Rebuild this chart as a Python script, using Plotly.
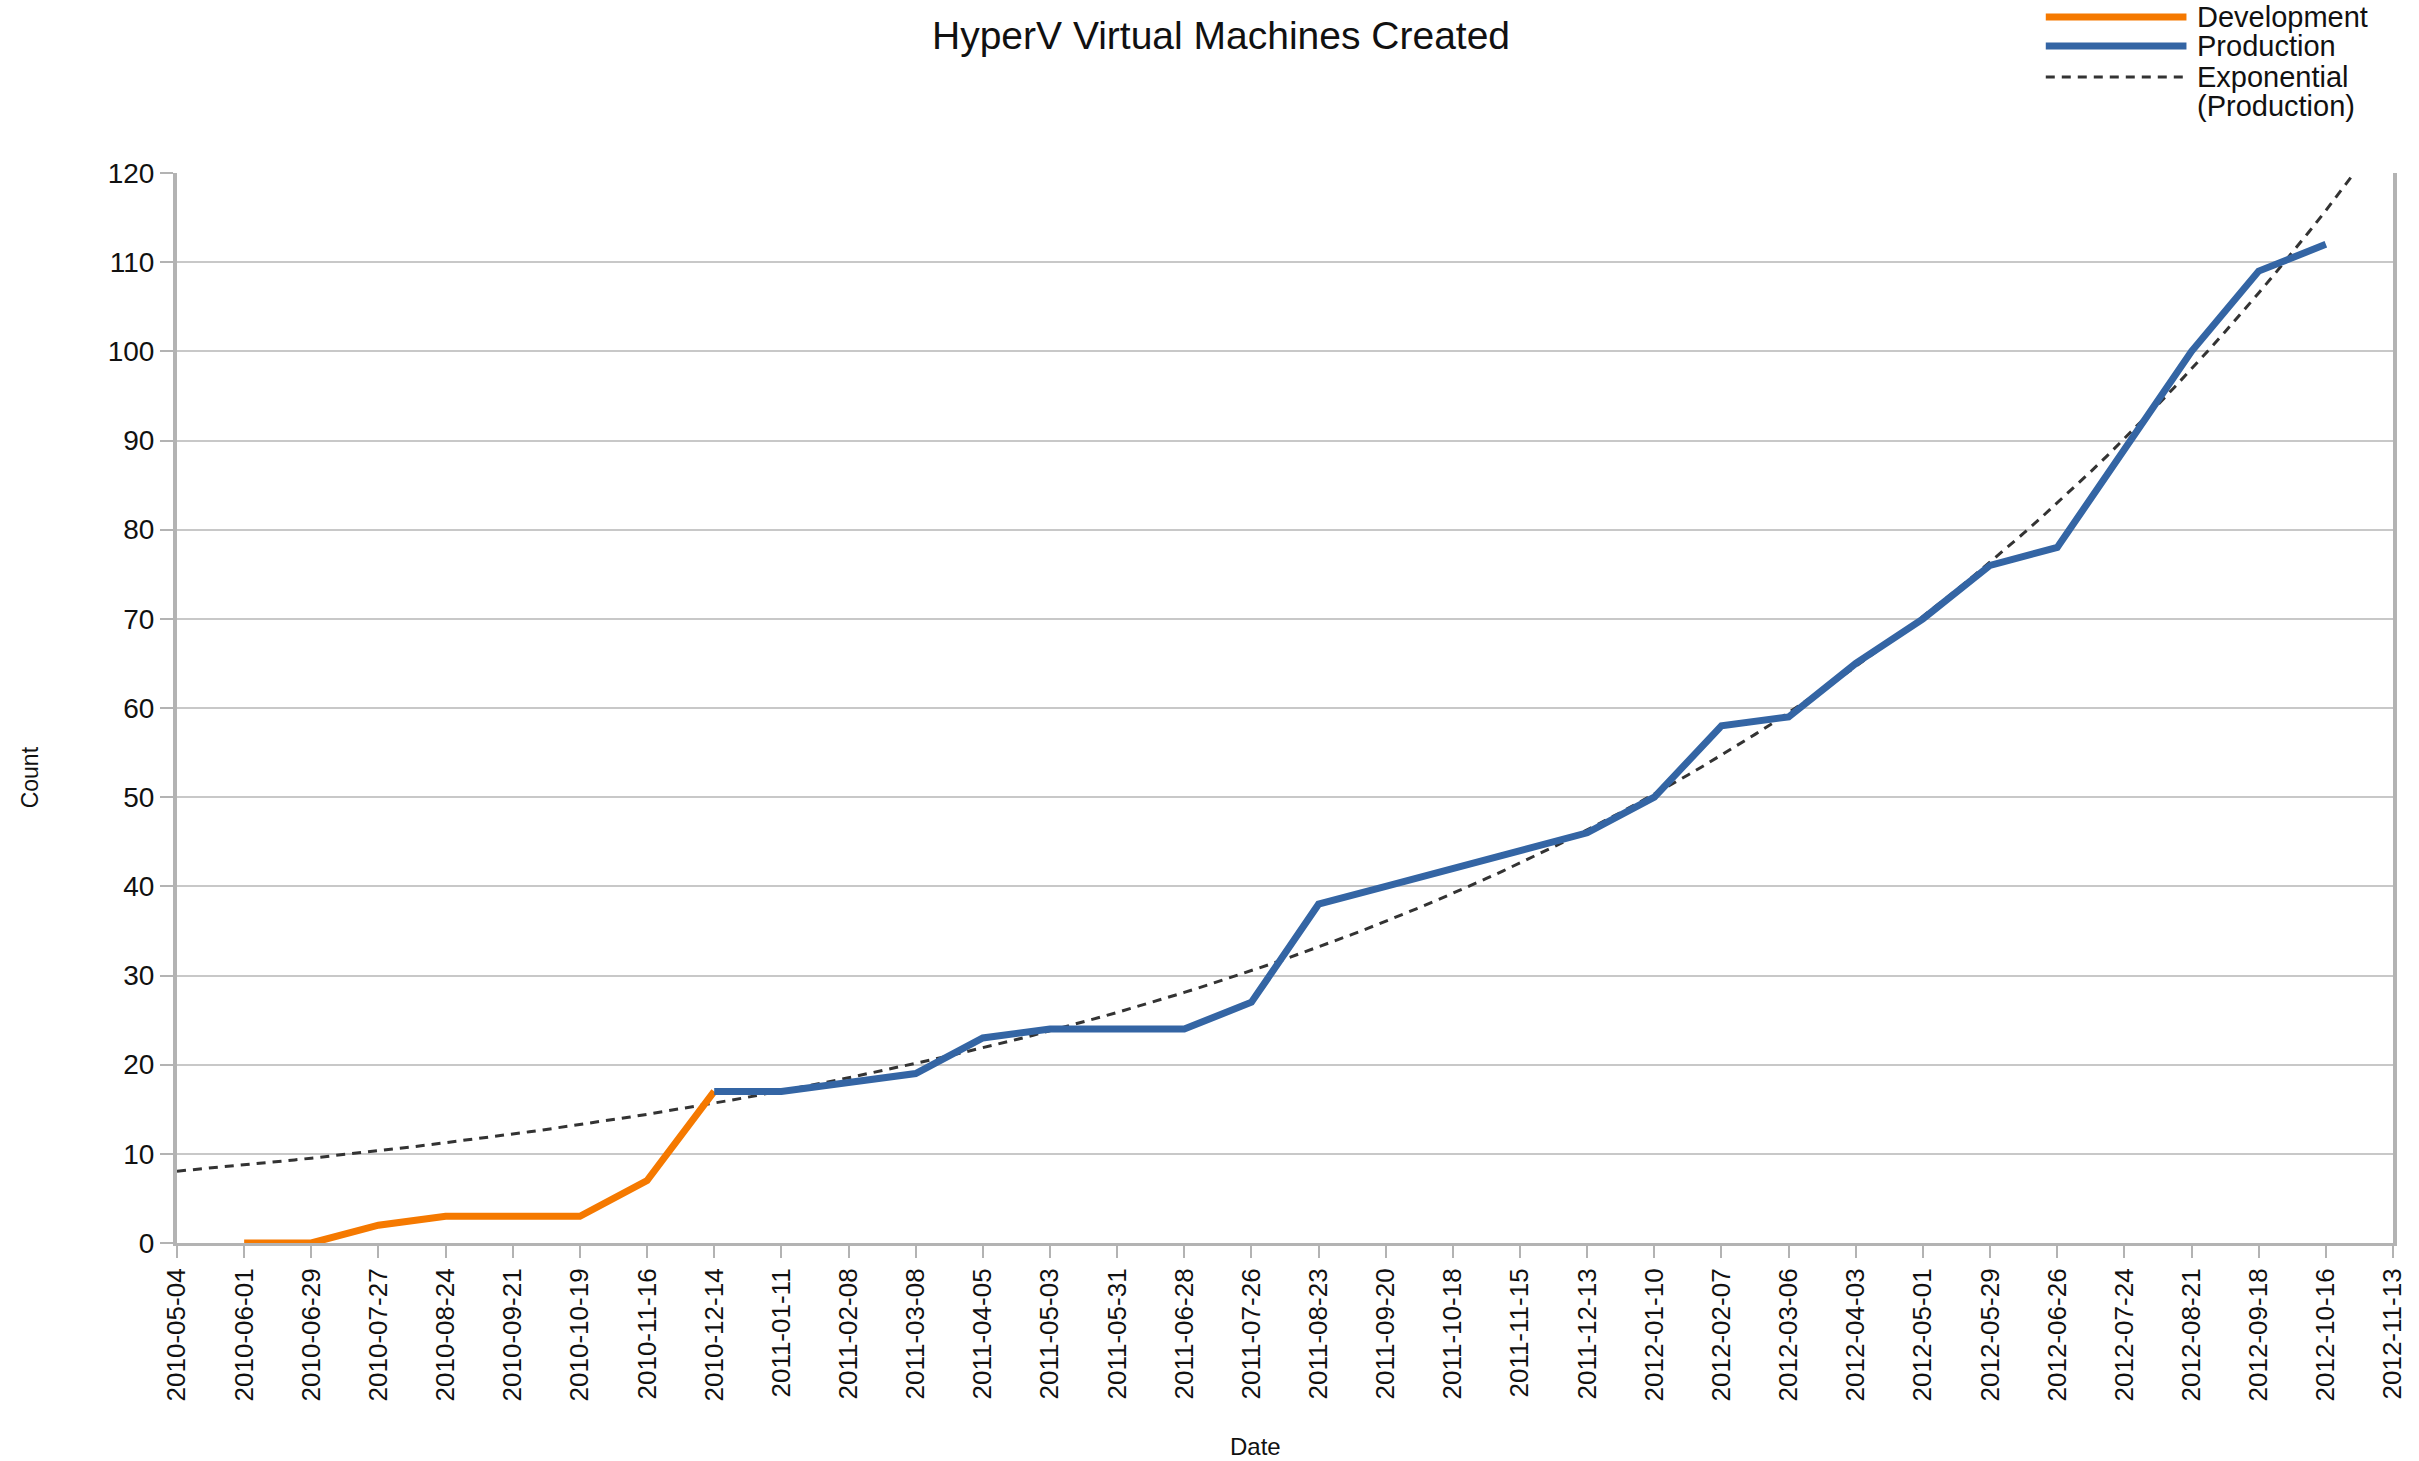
import numpy as np
import pandas as pd
import plotly.graph_objects as go

# ---- data ----
tick_dates = ["2010-05-04", "2010-06-01", "2010-06-29", "2010-07-27", "2010-08-24", "2010-09-21",
              "2010-10-19", "2010-11-16", "2010-12-14", "2011-01-11", "2011-02-08", "2011-03-08",
              "2011-04-05", "2011-05-03", "2011-05-31", "2011-06-28", "2011-07-26", "2011-08-23",
              "2011-09-20", "2011-10-18", "2011-11-15", "2011-12-13", "2012-01-10", "2012-02-07",
              "2012-03-06", "2012-04-03", "2012-05-01", "2012-05-29", "2012-06-26", "2012-07-24",
              "2012-08-21", "2012-09-18", "2012-10-16", "2012-11-13"]

dev_dates = ["2010-06-01", "2010-06-29", "2010-07-27", "2010-08-24", "2010-09-21",
             "2010-10-19", "2010-11-16", "2010-12-14"]
dev_values = [0, 0, 2, 3, 3, 3, 7, 17]

prod_dates = ["2010-12-14", "2011-01-11", "2011-02-08", "2011-03-08", "2011-04-05", "2011-05-03",
              "2011-05-31", "2011-06-28", "2011-07-26", "2011-08-23", "2011-09-20", "2011-10-18",
              "2011-11-15", "2011-12-13", "2012-01-10", "2012-02-07", "2012-03-06", "2012-04-03",
              "2012-05-01", "2012-05-29", "2012-06-26", "2012-07-24", "2012-08-21", "2012-09-18",
              "2012-10-16"]
prod_values = [17, 17, 18, 19, 23, 24, 24, 24, 27, 38, 40, 42, 44, 46, 50, 58, 59, 65, 70, 76,
               78, 89, 100, 109, 112]

y_ticks = [0, 10, 20, 30, 40, 50, 60, 70, 80, 90, 100, 110, 120]

# ---- exponential trend fitted to Production (like the spreadsheet trendline) ----
t0 = pd.Timestamp(tick_dates[0])
prod_days = np.array([(pd.Timestamp(d) - t0).days for d in prod_dates], dtype=float)
b, lna = np.polyfit(prod_days, np.log(prod_values), 1)
trend_x = pd.date_range(tick_dates[0], tick_dates[-1], freq="7D")
trend_days = np.array([(d - t0).days for d in trend_x], dtype=float)
trend_y = np.exp(lna + b * trend_days)

ORANGE = "#F57900"
BLUE = "#3465A4"
TREND = "#333333"
GRID = "#C8C8C8"
AXIS = "#B3B3B3"
FONT = "Liberation Sans, Arial, sans-serif"

fig = go.Figure()
fig.add_trace(go.Scatter(x=trend_x, y=trend_y, mode="lines", name="Exponential (Production)",
                         line=dict(color=TREND, width=3, dash="9px,7px"), showlegend=False))
fig.add_trace(go.Scatter(x=dev_dates, y=dev_values, mode="lines", name="Development",
                         line=dict(color=ORANGE, width=7), showlegend=False))
fig.add_trace(go.Scatter(x=prod_dates, y=prod_values, mode="lines", name="Production",
                         line=dict(color=BLUE, width=7), showlegend=False))

W, H = 2419, 1461
L, R, T, B = 177, 21, 173, 218
pw, ph = W - L - R, H - T - B

def px(xp):
    return (xp - L) / pw

def py(yp):
    return 1 - (yp - T) / ph

annotations = [
    dict(text="HyperV Virtual Machines Created", x=px(1223), y=py(35), xref="paper", yref="paper",
         showarrow=False, xanchor="center", yanchor="middle", font=dict(size=39, color="#111", family=FONT)),
    dict(text="Count", x=px(30), y=py(777), xref="paper", yref="paper", textangle=-90,
         showarrow=False, xanchor="center", yanchor="middle", font=dict(size=23, color="#111", family=FONT)),
    dict(text="Date", x=px(1258), y=py(1446), xref="paper", yref="paper",
         showarrow=False, xanchor="center", yanchor="middle", font=dict(size=24, color="#111", family=FONT)),
]

# legend drawn by hand: (text, line colour, dash, width, line y px, text y px)
legend_lines = [(ORANGE, "solid", 7, 17), (BLUE, "solid", 7, 46), (TREND, "9px,7px", 3, 77)]
legend_texts = [("Development", 17), ("Production", 46), ("Exponential", 77), ("(Production)", 106)]
shapes = []
for color, dash, width, ly in legend_lines:
    shapes.append(dict(type="line", xref="paper", yref="paper", x0=px(2050), x1=px(2191),
                       y0=py(ly), y1=py(ly), line=dict(color=color, width=width, dash=dash)))
for label, ty in legend_texts:
    annotations.append(dict(text=label, x=px(2200), y=py(ty), xref="paper", yref="paper",
                            showarrow=False, xanchor="left", yanchor="middle", align="left",
                            font=dict(size=29, color="#111", family=FONT)))

fig.update_layout(
    width=W, height=H,
    margin=dict(l=L, r=R, t=T, b=B),
    paper_bgcolor="white", plot_bgcolor="white",
    font=dict(family=FONT, color="#111"),
    showlegend=False,
    shapes=shapes,
    annotations=annotations,
    xaxis=dict(
        type="date",
        range=[tick_dates[0], tick_dates[-1]],
        tickmode="array", tickvals=tick_dates, ticktext=tick_dates,
        tickangle=-90, tickfont=dict(size=26, family=FONT, color="#111"),
        ticks="outside", ticklen=12, tickwidth=2, tickcolor=AXIS,
        showgrid=False, showline=True, linecolor=AXIS, linewidth=3, mirror=False,
        zeroline=False,
    ),
    yaxis=dict(
        range=[0, 120],
        tickmode="array", tickvals=y_ticks,
        tickfont=dict(size=28, family=FONT, color="#111"),
        ticks="outside", ticklen=13, tickwidth=2, tickcolor=AXIS,
        showgrid=True, gridcolor=GRID, gridwidth=2,
        showline=True, linecolor=AXIS, linewidth=4, mirror=True,
        zeroline=False,
    ),
)

fig.write_html("out.html", config={"displayModeBar": False},
               post_script="document.body.style.margin='0px';document.body.style.overflow='hidden';")
